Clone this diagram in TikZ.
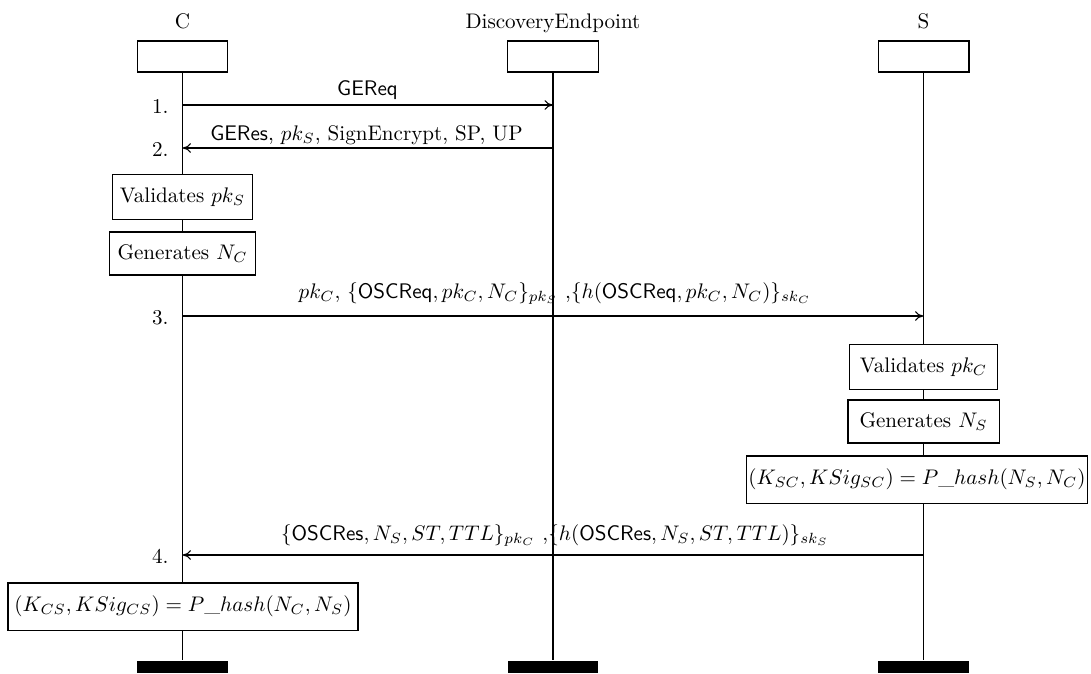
\documentclass[tikz,border=0pt]{standalone}
\usetikzlibrary{arrows.meta}
\begin{document}
\begin{tikzpicture}[x=0.474pt,y=-0.474pt,
  line width=0.5pt,
  head/.style={draw,minimum width=43.1pt,minimum height=14.7pt,inner sep=0pt},
  endbar/.style={fill=black,minimum width=43.1pt,minimum height=5.7pt,inner sep=0pt},
  actbox/.style={draw,fill=white,inner sep=1pt,minimum height=20.9pt},
  iname/.style={anchor=base,inner sep=0pt},
  msglabel/.style={anchor=base,inner sep=0pt},
  msgnum/.style={anchor=base east,inner sep=0pt},
  msg/.style={-{To[length=4pt,width=4.5pt]}}]
\useasboundingbox (0,0) rectangle (1091,673);
% instance names
\node[iname] (nC) at (182.5,28) {C};
\node[iname] (nD) at (553,28) {DiscoveryEndpoint};
\node[iname] (nS) at (923.5,28) {S};
% heads
\node[head] (hC) at (182.5,56.5) {};
\node[head] (hD) at (553,56.5) {};
\node[head] (hS) at (923.5,56.5) {};
% end bars
\node[endbar] (eC) at (182.5,667) {};
\node[endbar] (eD) at (553,667) {};
\node[endbar] (eS) at (923.5,667) {};
% action boxes
\node[actbox,minimum width=66.4pt] (valS) at (182.5,197) {Validates $pk_S$};
\node[actbox,minimum width=69.2pt,minimum height=20.4pt] (genC) at (182.5,253.5) {Generates $N_C$};
\node[actbox,minimum width=70.2pt] (valC) at (923.5,367) {Validates $pk_C$};
\node[actbox,minimum width=71.6pt,minimum height=20.4pt] (genS) at (923.5,421.5) {Generates $N_S$};
\node[actbox,minimum width=159.7pt,minimum height=22.3pt] (hashS) at (917,479.5) {$(K_{SC}, KSig_{SC}) = P\_hash(N_S, N_C)$};
\node[actbox,minimum width=165.9pt,minimum height=22.3pt] (hashC) at (183,606.5) {$(K_{CS}, KSig_{CS}) = P\_hash(N_C, N_S)$};
% lifelines
\draw (hC.south) -- (valS.north);
\draw (valS.south) -- (genC.north);
\draw (genC.south) -- (hashC.north -| hC.south);
\draw (hashC.south -| hC.south) -- (eC.north);
\draw (hD.south) -- (eD.north);
\draw (hS.south) -- (valC.north);
\draw (valC.south) -- (genS.north);
\draw (genS.south) -- (hashS.north -| hS.south);
\draw (hashS.south -| hS.south) -- (eS.north);
% message end points
\coordinate (m1a) at (182.5,105);
\coordinate (m1b) at (553,105);
\coordinate (m2a) at (553,148);
\coordinate (m2b) at (182.5,148);
\coordinate (m3a) at (182.5,316);
\coordinate (m3b) at (923.5,316);
\coordinate (m4a) at (923.5,555);
\coordinate (m4b) at (182.5,555);
% messages
\draw[msg] (m1a) -- (m1b);
\draw[msg] (m2a) -- (m2b);
\draw[msg] (m3a) -- (m3b);
\draw[msg] (m4a) -- (m4b);
% labels
\node[msglabel] (l1) at (367.5,95) {\textsf{GEReq}};
\node[msglabel] (l2) at (366.5,140) {\textsf{GERes}, $pk_S$, SignEncrypt, SP, UP};
\node[msglabel] (l3) at (555,298) {$pk_C$, $\{\textsf{OSCReq}, pk_C, N_C\}_{pk_S}$ ,$\{h(\textsf{OSCReq}, pk_C, N_C)\}_{sk_C}$};
\node[msglabel] (l4) at (555,540) {$\{\textsf{OSCRes}, N_S, ST, TTL\}_{pk_C}$ ,$\{h(\textsf{OSCRes}, N_S, ST, TTL)\}_{sk_S}$};
% numbers
\node[msgnum] (k1) at (169,113) {1.};
\node[msgnum] (k2) at (169,156) {2.};
\node[msgnum] (k3) at (169,324) {3.};
\node[msgnum] (k4) at (169,563) {4.};
\end{tikzpicture}
\end{document}
